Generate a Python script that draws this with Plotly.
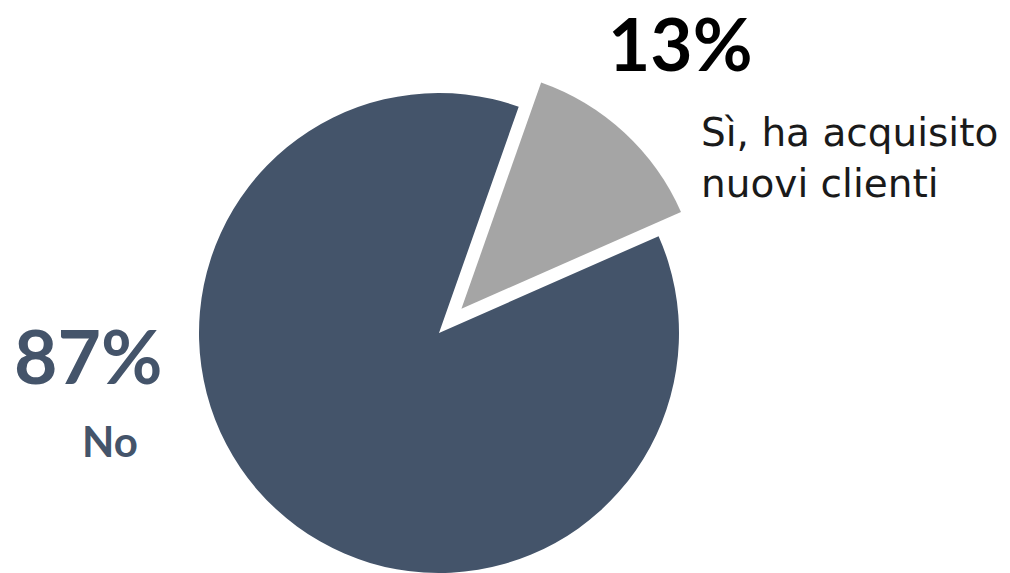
import math
import plotly.graph_objects as go

# Survey answer shares (percent)
labels = ["Sì, ha acquisito nuovi clienti", "No"]
values = [13, 87]
colors = ["#A5A5A5", "#44546A"]

W, H = 1010, 573
R = 240                # pie radius, px
CX, CY = 439, 333      # pie centre, px from top-left
ROTATION = 19.4        # start angle of the first slice, clockwise from 12 o'clock
PULL = 0.1375          # explode distance of the first slice, as a fraction of R

CLEAR = "rgba(0,0,0,0)"


def domain(cx, cy):
    return dict(
        x=[(cx - R) / W, (cx + R) / W],
        y=[(H - cy - R) / H, (H - cy + R) / H],
    )


# offset of the exploded slice along its bisector
mid = math.radians(ROTATION + values[0] / sum(values) * 360 / 2)
dx = PULL * R * math.sin(mid)
dy = -PULL * R * math.cos(mid)

common = dict(
    labels=labels,
    values=values,
    sort=False,
    direction="clockwise",
    rotation=ROTATION,
    textinfo="none",
    hoverinfo="label+percent",
    showlegend=False,
)

fig = go.Figure()
# main body ("No")
fig.add_trace(go.Pie(
    **common,
    domain=domain(CX, CY),
    marker=dict(colors=[CLEAR, colors[1]], line=dict(width=0)),
))
# exploded slice ("Sì")
fig.add_trace(go.Pie(
    **common,
    domain=domain(CX + dx, CY + dy),
    marker=dict(colors=[colors[0], CLEAR], line=dict(width=0)),
))


def px(x, y):
    return x / W, 1 - y / H


# text, x, y (px), anchor, font, box height
annots = [
    (f"<b>{values[0]}%</b>", 680, 43, "center",
     dict(family="Lato", size=73, color="#000000"), 84),
    ("Sì, ha acquisito<br>nuovi clienti", 699, 158, "left",
     dict(family="DejaVu Sans", size=39, color="#1a1a1a"), None),
    (f"<b>{values[1]}%</b>", 88, 355, "center",
     dict(family="Lato", size=75, color="#44546A"), None),
    ("<b>No</b>", 110, 441, "center",
     dict(family="Lato", size=42, color="#44546A"), None),
]
for text, x, y, anchor, font, hgt in annots:
    ax, ay = px(x, y)
    fig.add_annotation(
        text=text, x=ax, y=ay, xref="paper", yref="paper",
        xanchor=anchor, yanchor="middle", align=anchor,
        height=hgt, showarrow=False, font=font,
    )

fig.update_layout(
    width=W, height=H,
    margin=dict(l=0, r=0, t=0, b=0),
    paper_bgcolor="white",
    plot_bgcolor="white",
)

fig.write_html("out.html")
